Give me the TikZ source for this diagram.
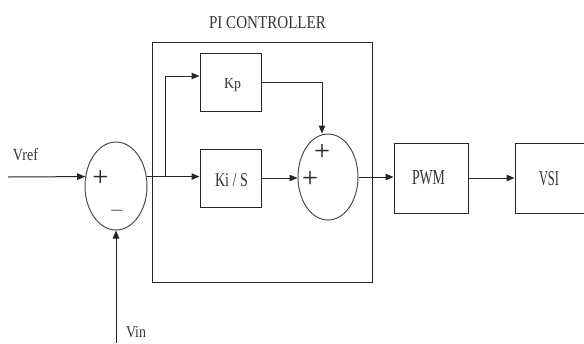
\documentclass[tikz,border=0pt]{standalone}
\usepackage{graphicx}
\usepackage{fontspec}
\setmainfont{Liberation Serif}
\usetikzlibrary{arrows.meta,shapes.geometric}
\begin{document}
\begin{tikzpicture}[x=1pt,y=-1pt,line width=1pt,
  >={Triangle[length=8pt,width=6.5pt]},
  blk/.style={draw=black!85,rectangle,inner sep=0pt},
  sumnode/.style={draw=black!70,ellipse,inner sep=0pt},
  lbl/.style={inner sep=0pt,text=black!80},
  sgn/.style={inner sep=0pt,text=black!85},
  conn/.style={draw=black!85}]
\useasboundingbox (0,0) rectangle (584,343);
% PI controller frame
\node[blk,minimum width=220pt,minimum height=240pt] (pi) at (262,162) {};
\node[lbl] (title) at (267.5,23) {\resizebox{117pt}{12pt}{PI CONTROLLER}};
% summing junctions
\node[sumnode,minimum width=62pt,minimum height=88pt] (e1) at (116,186) {};
\node[sumnode,minimum width=60pt,minimum height=86pt] (e2) at (328,177) {};
% blocks
\node[blk,minimum width=61pt,minimum height=58pt] (kp) at (230.5,82) {};
\node[lbl] (kptext) at (232.5,85) {\resizebox{17pt}{10pt}{Kp}};
\node[blk,minimum width=61pt,minimum height=58pt] (ki) at (230.5,178) {};
\node[lbl] (kitext) at (231.5,180) {\resizebox{33pt}{13pt}{Ki / S}};
\node[blk,minimum width=74pt,minimum height=70pt] (pwm) at (431,178) {};
\node[lbl] (pwmtext) at (428.5,177.5) {\resizebox{33pt}{14pt}{PWM}};
\node[blk,minimum width=75pt,minimum height=70pt] (vsi) at (552.5,178) {};
\node[lbl] (vsitext) at (549,178.5) {\resizebox{20pt}{14pt}{VSI}};
% signs
\node[sgn] (p1) at (100.5,178) {\resizebox{16pt}{!}{+}};
\node[sgn] (m1) at (117,211) {\resizebox{15pt}{!}{$-$}};
\node[sgn] (p2) at (322,152) {\resizebox{16pt}{!}{+}};
\node[sgn] (p3) at (310,179) {\resizebox{16pt}{!}{+}};
% external labels
\node[lbl] (vref) at (25.5,155) {\resizebox{25pt}{12pt}{Vref}};
\node[lbl] (vin) at (136,332) {\resizebox{20pt}{11pt}{Vin}};
% connectors
\coordinate (vrefin) at (8,177);
\coordinate (vinin) at (116,343);
\coordinate (br) at (165,177);
\draw[conn,->] (vrefin) -- (e1.163);
\draw[conn,->] (vinin) -- (e1.south);
\draw[conn,->] (e1.17) -- (e1.17 -| ki.west);
\draw[conn,->] (br) |- ([yshift=6pt]kp.west);
\draw[conn,->] (kp.east) -| ([xshift=-6pt]e2.north);
\draw[conn,->] (ki.east) -- (ki.east -| e2.west);
\draw[conn,->] (e2.east) -- (e2.east -| pwm.west);
\draw[conn,->] (pwm.east) -- (pwm.east -| vsi.west);
\end{tikzpicture}
\end{document}
